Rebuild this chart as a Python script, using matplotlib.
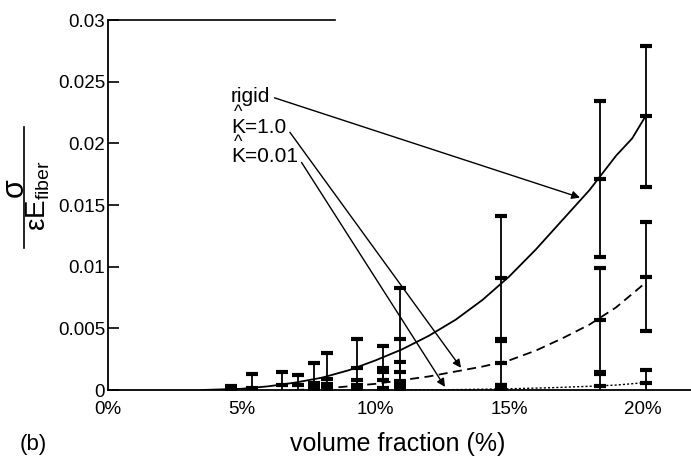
import numpy as np
import matplotlib.pyplot as plt

plt.rcParams['font.family'] = ['Liberation Sans', 'DejaVu Sans']
plt.rcParams['mathtext.fontset'] = 'custom'
plt.rcParams['mathtext.rm'] = 'Liberation Sans'

# fitted curves: volume fraction (%) vs normalised stress
rigid_fit_x = [3.5, 5.0, 6.0, 7.0, 8.0, 9.0, 10.0, 11.0, 12.0, 13.0, 14.0, 15.0,
               16.0, 17.0, 18.0, 19.0, 19.6, 20.1]
rigid_fit_y = [0.0, 0.0001, 0.0003, 0.0006, 0.0010, 0.0016, 0.0024, 0.0033, 0.0044,
               0.0057, 0.0073, 0.0092, 0.0114, 0.0138, 0.0162, 0.0190, 0.0204, 0.0222]

k1_fit_x = [7.0, 8.0, 9.0, 10.0, 11.0, 12.0, 13.0, 14.0, 15.0, 16.0, 17.0, 18.0, 19.0, 20.1]
k1_fit_y = [0.0, 0.0001, 0.0003, 0.0005, 0.0008, 0.0011, 0.0015, 0.0019, 0.0024,
            0.0032, 0.0042, 0.0053, 0.0067, 0.0087]

k001_fit_x = [11.0, 13.0, 15.0, 16.5, 18.0, 19.0, 20.1]
k001_fit_y = [0.0, 0.00003, 0.0001, 0.00018, 0.0003, 0.0004, 0.0006]

# measured means with error bars
rigid_x = [4.6, 5.4, 6.5, 7.1, 7.7, 8.2, 9.3, 10.3, 10.9, 14.7, 18.4, 20.1]
rigid_mean = [0.0001, 0.0002, 0.0004, 0.0004, 0.0006, 0.0009, 0.0018, 0.0018, 0.0041,
              0.0091, 0.0171, 0.0222]
rigid_err = [0.0002, 0.0011, 0.0011, 0.0008, 0.0016, 0.0021, 0.0023, 0.0018, 0.0042,
             0.0050, 0.0063, 0.0057]

k1_x = [7.7, 8.2, 9.3, 10.3, 10.9, 14.7, 18.4, 20.1]
k1_mean = [0.0002, 0.0002, 0.0004, 0.0008, 0.0015, 0.0022, 0.0057, 0.0092]
k1_err = [0.0002, 0.0003, 0.0004, 0.0007, 0.0008, 0.0018, 0.0042, 0.0044]

k001_x = [9.3, 10.3, 10.9, 14.7, 18.4, 20.1]
k001_mean = [0.0001, 0.0001, 0.0002, 0.0001, 0.0003, 0.0006]
k001_err = [0.0001, 0.0001, 0.0002, 0.0003, 0.0010, 0.0010]

x_ticks = [0, 5, 10, 15, 20]
x_tick_labels = ['0%', '5%', '10%', '15%', '20%']
y_ticks = [0, 0.005, 0.01, 0.015, 0.02, 0.025, 0.03]
y_tick_labels = ['0', '0.005', '0.01', '0.015', '0.02', '0.025', '0.03']

fig = plt.figure(figsize=(6.91, 4.57), dpi=100)
ax = fig.add_axes([0.1563, 0.1466, 0.8437, 0.8096])

ax.plot(rigid_fit_x, rigid_fit_y, color='black', lw=1.3)
ax.plot(k1_fit_x, k1_fit_y, color='black', lw=1.3, dashes=(5, 3))
ax.plot(k001_fit_x, k001_fit_y, color='black', lw=1.0, dashes=(1.5, 1.5))

for xs, ms, es in [(rigid_x, rigid_mean, rigid_err),
                   (k1_x, k1_mean, k1_err),
                   (k001_x, k001_mean, k001_err)]:
    ax.errorbar(xs, ms, yerr=es, fmt='_', color='black', ms=8, mew=3,
                elinewidth=1.3, capsize=4, capthick=3)

ax.set_xlim(0, 21.8)
ax.set_ylim(0, 0.03)
ax.set_xticks(x_ticks)
ax.set_xticklabels(x_tick_labels)
ax.set_yticks(y_ticks)
ax.set_yticklabels(y_tick_labels)
ax.tick_params(axis='y', direction='in', length=8, width=1.2, labelsize=13.5, pad=2)
ax.tick_params(axis='x', length=0, labelsize=13.5, pad=8)
ax.spines['right'].set_visible(False)
ax.spines['top'].set_visible(False)
ax.spines['left'].set_linewidth(1.3)
ax.spines['bottom'].set_linewidth(1.3)
ax.plot([0, 8.5], [0.03, 0.03], color='black', lw=1.2, clip_on=False)

# labels with arrows to the curves
arrow = dict(arrowstyle='-|>', color='black', lw=1.0, mutation_scale=12,
             shrinkA=1, shrinkB=0, relpos=(1, 0.5))
ax.annotate('rigid', xy=(17.65, 0.0156), xytext=(4.6, 0.0238), fontsize=15,
            va='center', arrowprops=arrow)
ax.annotate('K=1.0', xy=(13.2, 0.0018), xytext=(4.6, 0.0213), fontsize=15,
            va='center', arrowprops=arrow)
ax.annotate('K=0.01', xy=(12.6, 0.00025), xytext=(4.6, 0.0189), fontsize=15,
            va='center', arrowprops=arrow)
ax.text(4.86, 0.0225, '^', fontsize=13, ha='center', va='center')
ax.text(4.86, 0.0201, '^', fontsize=13, ha='center', va='center')

# y label as a stacked fraction
fig.text(0.021, 0.59, 'σ', rotation=90, fontsize=22, ha='center', va='center')
fig.add_artist(plt.Line2D([0.035, 0.035], [0.457, 0.722], color='black', lw=1.2))
fig.text(0.055, 0.572, r'εE$_{\mathrm{fiber}}$', rotation=90, fontsize=20,
         ha='center', va='center')

fig.text(0.575, 0.028, 'volume fraction (%)', fontsize=18, ha='center', va='center')
fig.text(0.029, 0.028, '(b)', fontsize=16, ha='left', va='center')

fig.savefig('out.png', dpi=100)
